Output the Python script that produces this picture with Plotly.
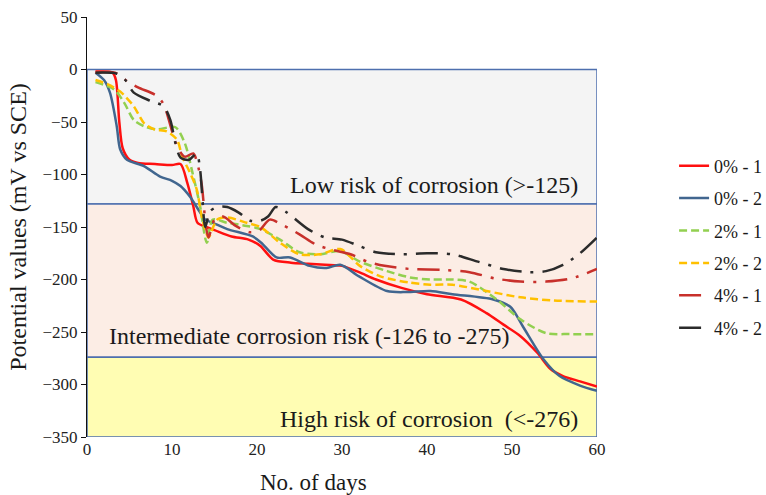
import plotly.graph_objects as go

# ---- data ----
days_0_1 = [1, 3, 3.4, 3.8, 4.2, 5, 6, 8, 10, 11, 11.8, 12.5, 13, 14, 15, 17, 19, 20.4, 21.9, 24, 26, 28, 30, 32, 34, 37, 40, 44, 47, 49, 51, 53, 54.5, 56, 58, 60]
vals_0_1 = [-2, -3, -10, -50, -75, -86, -89, -90, -91, -90, -108, -130, -146, -150, -153, -159, -162, -168, -181, -184, -185, -186, -187, -193, -200, -208, -214, -219, -232, -243, -254, -270, -285, -292, -297, -302]

days_0_2 = [1, 2, 2.7, 3.5, 3.9, 4.7, 6.7, 8.6, 10, 11, 12.1, 13.3, 13.9, 14.8, 16.5, 19.5, 20.5, 22.3, 23.9, 26.2, 28.2, 29.8, 32, 35.3, 37.6, 40.4, 43, 47.8, 49.8, 51.3, 53.7, 55.6, 58, 60]
vals_0_2 = [-3, -10, -22, -54, -76, -86, -92, -102, -106, -111, -121, -136, -143, -146, -152, -159, -165, -179, -179, -187, -189, -186, -197, -211, -212, -211, -214, -219, -226, -245, -276, -292, -301, -306]

days_2_1 = [1, 3.2, 4.4, 5.5, 6.7, 8.2, 10.4, 11.5, 12.4, 13.3, 14.1, 14.8, 16.5, 18.8, 20.4, 22.7, 25, 27.4, 29.8, 32.1, 35.3, 38, 40.4, 43, 45, 48.2, 51, 54, 56.8, 60]
vals_2_1 = [-12, -19, -32, -48, -54, -57, -55, -70, -98, -130, -165, -143, -146, -149, -152, -162, -174, -176, -173, -183, -192, -198, -200, -200, -202, -219, -238, -251, -252, -252]

days_2_2 = [1, 2.4, 3.9, 5.5, 6.7, 7.9, 9.4, 10.6, 11.2, 12.1, 12.9, 13.5, 13.9, 14.3, 15.3, 16.5, 18.8, 20.4, 22.7, 25, 27.4, 29.8, 32.1, 34.5, 38, 40.4, 43, 47, 51, 54.9, 60]
vals_2_2 = [-10, -14, -21, -35, -51, -57, -59, -67, -83, -98, -114, -140, -152, -160, -143, -141, -146, -150, -165, -176, -176, -171, -187, -197, -203, -205, -205, -211, -217, -220, -221]

days_4_1 = [1, 3.3, 4.7, 6, 8.2, 9, 10.6, 11.5, 12.5, 13, 13.5, 14, 14.3, 15, 16, 17.5, 19.2, 20.3, 21.5, 23, 25, 27, 29, 31, 33, 35, 38, 42, 45, 48, 51, 54, 57, 60]
vals_4_1 = [-3, -3, -11, -17, -25, -33, -73, -83, -80, -90, -110, -150, -160, -143, -140, -149, -155, -153, -143, -148, -157, -167, -172, -176, -183, -187, -190, -191, -193, -199, -202, -202, -199, -190]

days_4_2 = [1, 3.5, 4.5, 5.5, 7.5, 9, 9.8, 10.4, 11, 12, 12.9, 13.3, 13.6, 13.9, 14.5, 15.3, 16.5, 17.8, 19.2, 20.4, 21.3, 22.2, 23.3, 26, 28, 30, 32, 34, 37, 40, 43, 46, 49, 52, 54, 56, 58, 60]
vals_4_2 = [-3, -4, -10, -22, -30, -35, -48, -70, -84, -86, -80, -95, -125, -150, -135, -131, -131, -136, -144, -144, -140, -131, -135, -152, -160, -162, -168, -174, -176, -175, -176, -183, -190, -193, -192, -186, -175, -160]

series_names = ["0% - 1", "0% - 2", "2% - 1", "2% - 2", "4% - 1", "4% - 2"]
zone_bounds = [0, -128, -274, -350]
zone_labels = ["Low risk of corrosion (>-125)",
               "Intermediate corrosion risk (-126 to -275)",
               "High risk of corrosion  (<-276)"]
x_ticks = [0, 10, 20, 30, 40, 50, 60]
y_ticks = [50, 0, -50, -100, -150, -200, -250, -300, -350]

# ---- styles ----
SERIF = "Liberation Serif"
styles = [
    dict(color="#FF1010", width=2.5, dash="solid"),
    dict(color="#41668F", width=2.5, dash="solid"),
    dict(color="#92D050", width=2.5, dash="8px,4px"),
    dict(color="#FFC000", width=2.5, dash="8px,4px"),
    dict(color="#C8302B", width=2.5, dash="22px,9px,3px,9px"),
    dict(color="#2B2B2B", width=2.5, dash="22px,9px,3px,9px"),
]
all_days = [days_0_1, days_0_2, days_2_1, days_2_2, days_4_1, days_4_2]
all_vals = [vals_0_1, vals_0_2, vals_2_1, vals_2_2, vals_4_1, vals_4_2]

fig = go.Figure()
for i, (d, v, name, st) in enumerate(zip(all_days, all_vals, series_names, styles)):
    fig.add_trace(go.Scatter(
        x=d, y=v, name=name, mode="lines", legendgroup=f"g{i}",
        line=dict(color=st["color"], width=st["width"], dash=st["dash"],
                  shape="spline", smoothing=0.8),
    ))

fills = ["#F4F4F4", "#FCEDE5", "#FFFDB3"]
for k in range(3):
    fig.add_shape(type="rect", xref="x", yref="y", x0=0, x1=60,
                  y0=zone_bounds[k + 1], y1=zone_bounds[k],
                  fillcolor=fills[k], line=dict(color="#4E6FAE", width=1.5),
                  layer="below")

label_y = [-110, -254, -333]
label_x = [58.0, 26.2, 58.0]
label_anchor = ["right", "center", "right"]
for k in range(3):
    fig.add_annotation(x=label_x[k], y=label_y[k], xref="x", yref="y",
                       text=zone_labels[k], showarrow=False,
                       xanchor=label_anchor[k], yanchor="middle",
                       font=dict(family=SERIF, size=24, color="#1a1a1a"))

fig.add_annotation(x=0.445, y=-0.108, xref="paper", yref="paper",
                   text="No. of days", showarrow=False, xanchor="center",
                   yanchor="middle", font=dict(family=SERIF, size=23, color="#1a1a1a"))

fig.update_xaxes(range=[0, 60], tickvals=x_ticks, showgrid=False, zeroline=False,
                 showline=False, ticks="", tickfont=dict(family=SERIF, size=17, color="#222"))
fig.update_yaxes(range=[-350, 50], tickvals=y_ticks, showgrid=False, zeroline=False,
                 showline=True, linecolor="#111", linewidth=1, ticks="outside",
                 ticklen=5, tickcolor="#111",
                 tickfont=dict(family=SERIF, size=17, color="#222"),
                 title=dict(text="Potential values (mV vs SCE)", standoff=9,
                            font=dict(family=SERIF, size=24, color="#1a1a1a")))

fig.update_layout(
    width=766, height=495,
    font=dict(family=SERIF, color="#1a1a1a"),
    margin=dict(l=87, r=169, t=17, b=58, autoexpand=False),
    paper_bgcolor="white", plot_bgcolor="white",
    showlegend=True,
    legend=dict(xref="container", yref="container", x=0.880, y=0.702,
                xanchor="left", yanchor="top",
                font=dict(family=SERIF, size=18, color="#1a1a1a"),
                tracegroupgap=6, traceorder="grouped", bgcolor="rgba(0,0,0,0)"),
)

fig.write_html("out.html")
